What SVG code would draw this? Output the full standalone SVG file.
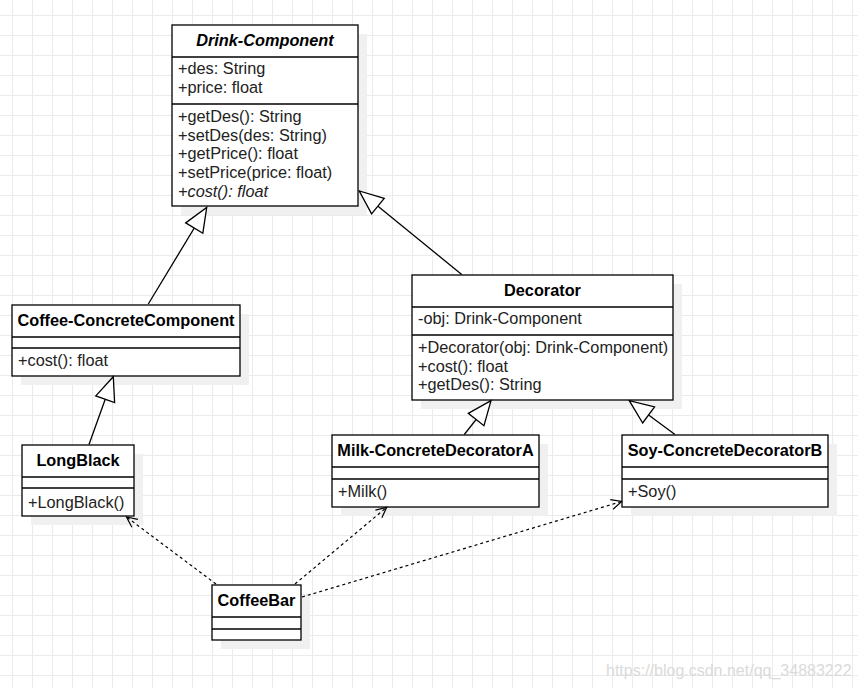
<svg xmlns="http://www.w3.org/2000/svg" width="858" height="688" viewBox="0 0 858 688">
<defs>
<pattern id="grid" x="12" y="15" width="20" height="20" patternUnits="userSpaceOnUse">
<rect x="0" y="0" width="1" height="20" fill="#ebebeb"/>
<rect x="0" y="0" width="20" height="1" fill="#ebebeb"/>
</pattern>
<marker id="tri" markerUnits="userSpaceOnUse" viewBox="0 0 27 23" markerWidth="27" markerHeight="23" refX="25.5" refY="11.5" orient="auto">
<path d="M1.5,1.5 L25.5,11.5 L1.5,21.5 Z" fill="#fff" stroke="#000" stroke-width="1.3"/>
</marker>
<marker id="open" markerUnits="userSpaceOnUse" viewBox="0 0 14 14" markerWidth="14" markerHeight="14" refX="12" refY="7" orient="auto">
<path d="M1.5,2 L12,7 L1.5,12" fill="none" stroke="#000" stroke-width="1.2" stroke-dasharray="none"/>
</marker>
</defs>
<style>
.sh{fill:#f0f0f0;}
.box{fill:#fff;stroke:#000;stroke-width:1.3;}
.sep{stroke:#000;stroke-width:1.3;}
.t{font-family:"Liberation Sans",Arial,sans-serif;font-size:16.3px;font-weight:bold;fill:#000;text-anchor:middle;}
.m{font-family:"Liberation Sans",Arial,sans-serif;font-size:16.3px;fill:#222;}
.gen{fill:none;stroke:#000;stroke-width:1.3;marker-end:url(#tri);}
.dep{fill:none;stroke:#000;stroke-width:1.2;stroke-dasharray:3,3;marker-end:url(#open);}
</style>
<rect width="858" height="688" fill="#fff"/>
<rect width="858" height="688" fill="url(#grid)"/>

<g id="drink-component">
<rect class="sh" x="181" y="34" width="186" height="181"/>
<rect class="box" x="172" y="25" width="186" height="181"/>
<line class="sep" x1="172" y1="57" x2="358" y2="57"/>
<line class="sep" x1="172" y1="104" x2="358" y2="104"/>
<text class="t" x="265" y="46" font-style="italic">Drink-Component</text>
<text class="m" x="178" y="74">+des: String</text>
<text class="m" x="178" y="92.5">+price: float</text>
<text class="m" x="178" y="122">+getDes(): String</text>
<text class="m" x="178" y="140.7">+setDes(des: String)</text>
<text class="m" x="178" y="159.3">+getPrice(): float</text>
<text class="m" x="178" y="178">+setPrice(price: float)</text>
<text class="m" x="178" y="196.7" font-style="italic">+cost(): float</text>
</g>

<g id="coffee-concrete-component">
<rect class="sh" x="21" y="314" width="228" height="71"/>
<rect class="box" x="12" y="305" width="228" height="71"/>
<line class="sep" x1="12" y1="337" x2="240" y2="337"/>
<line class="sep" x1="12" y1="348" x2="240" y2="348"/>
<text class="t" x="126" y="326">Coffee-ConcreteComponent</text>
<text class="m" x="18" y="366">+cost(): float</text>
</g>

<g id="decorator">
<rect class="sh" x="421" y="284" width="261" height="125"/>
<rect class="box" x="412" y="275" width="261" height="125"/>
<line class="sep" x1="412" y1="307" x2="673" y2="307"/>
<line class="sep" x1="412" y1="335" x2="673" y2="335"/>
<text class="t" x="542.5" y="296">Decorator</text>
<text class="m" x="418" y="323.5">-obj: Drink-Component</text>
<text class="m" x="418" y="353">+Decorator(obj: Drink-Component)</text>
<text class="m" x="418" y="371.7">+cost(): float</text>
<text class="m" x="418" y="390.3">+getDes(): String</text>
</g>

<g id="longblack">
<rect class="sh" x="31" y="454" width="112" height="71"/>
<rect class="box" x="22" y="445" width="112" height="71"/>
<line class="sep" x1="22" y1="477" x2="134" y2="477"/>
<line class="sep" x1="22" y1="488" x2="134" y2="488"/>
<text class="t" x="78" y="466">LongBlack</text>
<text class="m" x="28" y="507.5">+LongBlack()</text>
</g>

<g id="milk-concrete-decorator-a">
<rect class="sh" x="341" y="444" width="207" height="72"/>
<rect class="box" x="332" y="435" width="207" height="72"/>
<line class="sep" x1="332" y1="467" x2="539" y2="467"/>
<line class="sep" x1="332" y1="479" x2="539" y2="479"/>
<text class="t" x="435.5" y="456">Milk-ConcreteDecoratorA</text>
<text class="m" x="338" y="497">+Milk()</text>
</g>

<g id="soy-concrete-decorator-b">
<rect class="sh" x="631" y="444" width="206" height="72"/>
<rect class="box" x="622" y="435" width="206" height="72"/>
<line class="sep" x1="622" y1="467" x2="828" y2="467"/>
<line class="sep" x1="622" y1="479" x2="828" y2="479"/>
<text class="t" x="725" y="456">Soy-ConcreteDecoratorB</text>
<text class="m" x="628" y="497">+Soy()</text>
</g>

<g id="coffeebar">
<rect class="sh" x="221" y="594" width="89" height="55"/>
<rect class="box" x="212" y="585" width="89" height="55"/>
<line class="sep" x1="212" y1="617" x2="301" y2="617"/>
<line class="sep" x1="212" y1="629" x2="301" y2="629"/>
<text class="t" x="256.5" y="606">CoffeeBar</text>
</g>

<g id="connectors">
<path class="gen" d="M148.3,304 L206.7,207.5"/>
<path class="gen" d="M461.7,274.5 L359.3,191"/>
<path class="gen" d="M89,444.5 L113.3,376.7"/>
<path class="gen" d="M464.3,434.5 L491,400.7"/>
<path class="gen" d="M675,434.5 L629.3,400.7"/>
<path class="dep" d="M216,584 L126.5,517"/>
<path class="dep" d="M295,584 L386.7,507.3"/>
<path class="dep" d="M302,597 L621.7,501.5"/>
</g>

<text x="606" y="676" font-family="'Liberation Sans',Arial,sans-serif" font-size="16" fill="#dadada">https://blog.csdn.net/qq_34883222</text>
</svg>
